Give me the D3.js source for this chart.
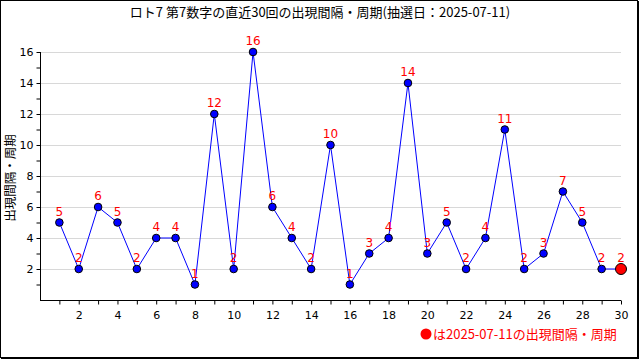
<!DOCTYPE html>
<html><head><meta charset="utf-8">
<script src="https://cdn.jsdelivr.net/npm/d3@7"></script>
<style>body{margin:0;background:#fff}svg{display:block}</style>
</head><body>
<svg id="c" width="640" height="360"></svg>
<script>
const titleText = "ロト7 第7数字の直近30回の出現間隔・周期(抽選日：2025-07-11)";
const yLabel = "出現間隔・周期";
const legendText = "は2025-07-11の出現間隔・周期";
const draws = d3.range(1, 31);
const intervals = [5,2,6,5,2,4,4,1,12,2,16,6,4,2,10,1,3,4,14,3,5,2,4,11,2,3,7,5,2,2];
const yTicks = [2,4,6,8,10,12,14,16];
const xTicks = [2,4,6,8,10,12,14,16,18,20,22,24,26,28,30];

const svg = d3.select("#c");
const font = "'Noto Sans CJK JP', 'DejaVu Sans', sans-serif";
const x = d3.scaleLinear().domain([0,30]).range([40,621]);
const y = d3.scaleLinear().domain([0,16]).range([300,52]);

// border
svg.append("rect").attr("x",0.5).attr("y",0.5).attr("width",637).attr("height",357)
  .attr("fill","none").attr("stroke","#000").attr("stroke-width",1);
svg.append("line").attr("x1",638).attr("x2",638).attr("y1",1).attr("y2",359).attr("stroke","#000").attr("stroke-width",2);
svg.append("line").attr("x1",1).attr("x2",639).attr("y1",358).attr("y2",358).attr("stroke","#000").attr("stroke-width",2);

// title
svg.append("text").attr("x",320).attr("y",17).attr("text-anchor","middle")
  .attr("font-family",font).attr("font-size",13).attr("fill","#000").text(titleText);

// grid
svg.append("g").selectAll("line").data(yTicks).join("line")
  .attr("x1",x(0)).attr("x2",x(30)).attr("y1",d=>Math.round(y(d))+0.5).attr("y2",d=>Math.round(y(d))+0.5)
  .attr("stroke","#d8d8d8").attr("stroke-width",1);

// axes
const yAxis = d3.axisLeft(y).tickValues(d3.range(1,17)).tickSize(4).tickSizeOuter(0)
  .tickFormat(d => yTicks.includes(d) ? d : "");
const gy = svg.append("g").attr("transform","translate(40.5,0)").call(yAxis);
gy.select(".domain").attr("d", `M0,${y(0)}V${y(16)}`);
gy.selectAll("text").attr("font-family","'DejaVu Sans', sans-serif").attr("font-size",11).attr("fill","#000");

const xAxis = d3.axisBottom(x).tickValues(d3.range(1,31)).tickSize(4).tickSizeOuter(0)
  .tickFormat(d => xTicks.includes(d) ? d : "");
const gx = svg.append("g").attr("transform","translate(0,300.5)").call(xAxis);
gx.select(".domain").attr("d", `M${x(0)},0H${x(30)}`);
gx.selectAll("text").attr("font-family","'DejaVu Sans', sans-serif").attr("font-size",11).attr("fill","#000").attr("dy","1.0em");

// y label
svg.append("text").attr("transform","translate(15,178) rotate(-90)").attr("text-anchor","middle")
  .attr("font-family",font).attr("font-size",12.5).attr("fill","#000").text(yLabel);

// line
const pts = draws.map((d,i)=>({x:d, v:intervals[i]}));
svg.append("path").datum(pts).attr("fill","none").attr("stroke","#0000ff").attr("stroke-width",1)
  .attr("d", d3.line().x(d=>x(d.x)).y(d=>y(d.v)));

// points
svg.append("g").selectAll("circle").data(pts.slice(0,-1)).join("circle")
  .attr("cx",d=>x(d.x)).attr("cy",d=>y(d.v)).attr("r",3.8)
  .attr("fill","#0000ff").attr("stroke","#000").attr("stroke-width",1);
const last = pts[pts.length-1];
svg.append("circle").attr("cx",x(last.x)).attr("cy",y(last.v)).attr("r",5.5)
  .attr("fill","#ff0000").attr("stroke","#000").attr("stroke-width",1);

// value labels
svg.append("g").selectAll("text").data(pts).join("text")
  .attr("x",d=>x(d.x)).attr("y",d=>y(d.v)-7).attr("text-anchor","middle")
  .attr("font-family","'DejaVu Sans', sans-serif").attr("font-size",12).attr("fill","#ff0000")
  .text(d=>d.v);

// legend
svg.append("circle").attr("cx",426).attr("cy",334).attr("r",5.5).attr("fill","#ff0000");
svg.append("text").attr("x",433).attr("y",339).attr("font-family",font).attr("font-size",13)
  .attr("fill","#ff0000").text(legendText);
</script>
</body></html>
